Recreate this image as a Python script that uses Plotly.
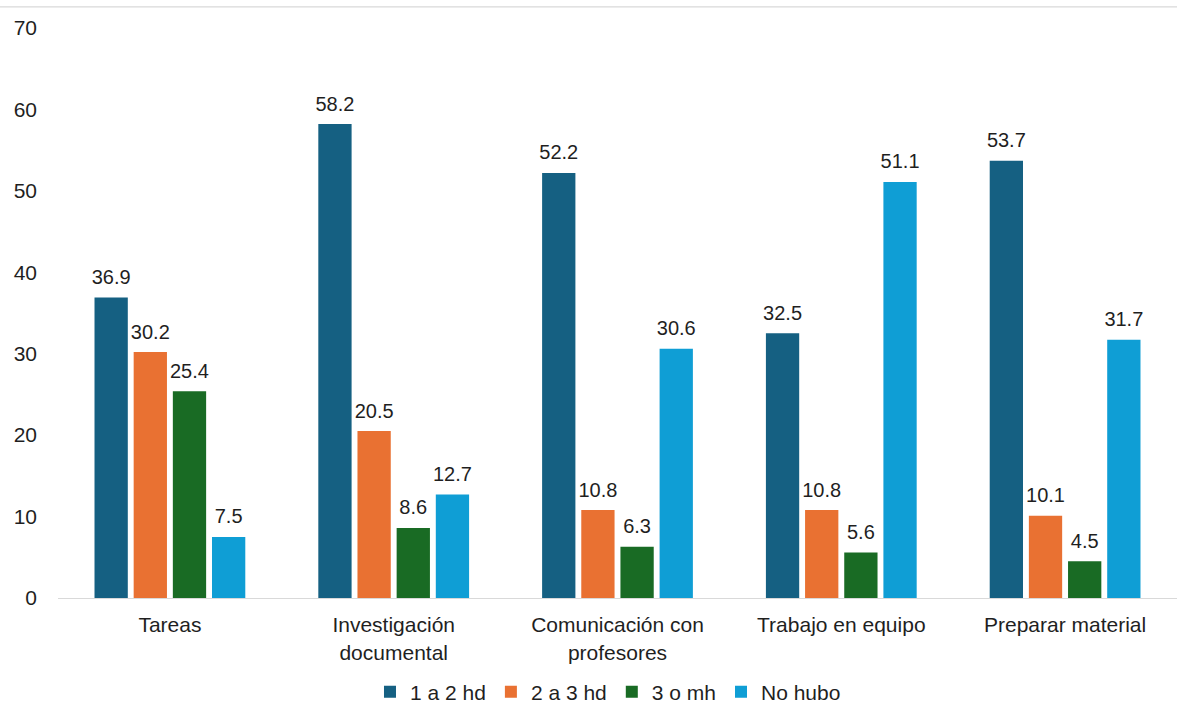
import plotly.graph_objects as go

categories = ["Tareas", "Investigación<br>documental", "Comunicación con<br>profesores",
              "Trabajo en equipo", "Preparar material"]
series_names = ["1 a 2 hd", "2 a 3 hd", "3 o mh", "No hubo"]
s1 = [36.9, 58.2, 52.2, 32.5, 53.7]
s2 = [30.2, 20.5, 10.8, 10.8, 10.1]
s3 = [25.4, 8.6, 6.3, 5.6, 4.5]
s4 = [7.5, 12.7, 30.6, 51.1, 31.7]
colors = ["#156082", "#E97132", "#196B24", "#0F9ED5"]
y_ticks = [0, 10, 20, 30, 40, 50, 60, 70]

FONT = "Liberation Sans, Arial, sans-serif"
TXT = "#1F1F1F"
fig = go.Figure()
for i, (name, vals, col) in enumerate(zip(series_names, [s1, s2, s3, s4], colors)):
    fig.add_trace(go.Bar(
        x=categories, y=vals, name=name, marker_color=col,
        marker_line_width=0, offsetgroup=str(i), hoverinfo="skip",
    ))
for i, vals in enumerate([s1, s2, s3, s4]):
    fig.add_trace(go.Scatter(
        x=categories, y=vals, mode="markers+text", offsetgroup=str(i),
        marker=dict(size=12, color="rgba(0,0,0,0)"),
        text=[f"{v:.1f}" for v in vals], textposition="top center",
        textfont=dict(family=FONT, size=20, color=TXT),
        showlegend=False, hoverinfo="skip", cliponaxis=False,
    ))

fig.update_layout(
    width=1177, height=707,
    margin=dict(l=58, r=0, t=28, b=109, autoexpand=False),
    paper_bgcolor="white", plot_bgcolor="white",
    barmode="group", bargap=0.30, bargroupgap=0.15,
    scattermode="group", scattergap=0.30,
    font=dict(family=FONT, size=21, color=TXT),
    showlegend=True,
    legend=dict(orientation="h", x=0.4915, xanchor="center", y=-0.165, yanchor="middle",
                font=dict(family=FONT, size=21, color=TXT),
                itemwidth=30, traceorder="normal"),
    xaxis=dict(showline=True, linecolor="#D9D9D9", linewidth=1.3, ticks="",
               tickfont=dict(family=FONT, size=21, color=TXT), ticklabelstandoff=8,
               showgrid=False, zeroline=False, automargin=False),
    yaxis=dict(range=[0, 70], tickvals=y_ticks, showgrid=False, zeroline=False,
               showline=False, ticks="", ticklabelstandoff=20, automargin=False,
               tickfont=dict(family=FONT, size=21, color=TXT)),
)
fig.add_shape(type="line", xref="paper", yref="paper", x0=-0.06, x1=1.0,
              y0=1.037, y1=1.037, line=dict(color="#D9D9D9", width=1.3))
fig.write_html("out.html")
